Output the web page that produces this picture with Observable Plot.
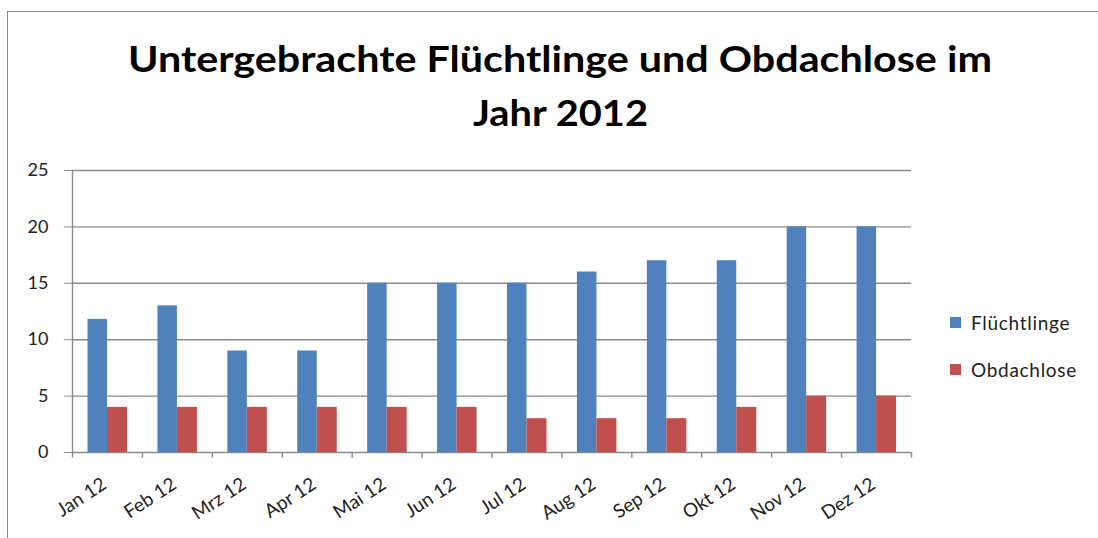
<!DOCTYPE html>
<html>
<head>
<meta charset="utf-8">
<script src="https://cdn.jsdelivr.net/npm/d3@7"></script>
<script src="https://cdn.jsdelivr.net/npm/@observablehq/plot@0.6"></script>
<style>
  body { margin: 0; background: #fff; }
  #wrap { position: relative; width: 1098px; height: 538px; overflow: hidden; font-family: Lato, "Open Sans", sans-serif; background: #fff; }
  #border { position: absolute; left: 7px; top: 11px; right: -4px; bottom: -4px; border-top: 1.5px solid #8a8a8a; border-left: 1.5px solid #8a8a8a; z-index: 5; pointer-events: none; }
  #title { position: absolute; left: 0; top: 0; }
  #chart { position: absolute; left: 0; top: 150px; }
  .leg { position: absolute; left: 950px; display: flex; align-items: center; font-size: 19px; letter-spacing: 0.7px; color: #222; height: 20px; }
  .sw { width: 11px; height: 11px; margin-right: 10px; }
</style>
</head>
<body>
<div id="wrap">
  <svg id="title" width="1098" height="140">
    <text id="t1" x="560" y="72" text-anchor="middle" font-family="Lato" font-weight="700" font-size="37" fill="#000" textLength="864" lengthAdjust="spacingAndGlyphs"></text>
    <text id="t2" x="560.5" y="126" text-anchor="middle" font-family="Lato" font-weight="700" font-size="37" fill="#000" textLength="175" lengthAdjust="spacingAndGlyphs"></text>
  </svg>
  <div id="chart"></div>
  <div id="legend"></div>
  <div id="border"></div>
</div>
<script>
// ---- data ----
const titleLines = ["Untergebrachte Flüchtlinge und Obdachlose im", "Jahr 2012"];
const months = ["Jan 12", "Feb 12", "Mrz 12", "Apr 12", "Mai 12", "Jun 12", "Jul 12", "Aug 12", "Sep 12", "Okt 12", "Nov 12", "Dez 12"];
const fluechtlinge = [11.8, 13, 9, 9, 15, 15, 15, 16, 17, 17, 20, 20];
const obdachlose = [4, 4, 4, 4, 4, 4, 3, 3, 3, 4, 5, 5];
const seriesNames = ["Flüchtlinge", "Obdachlose"];
const seriesColors = ["#4F81BD", "#C0504D"];
const yTicks = [0, 5, 10, 15, 20, 25];

// ---- layout ----
document.getElementById("t1").textContent = titleLines[0];
document.getElementById("t2").textContent = titleLines[1];

const W = 1098, H = 388, ML = 72, MR = 187, MT = 20, MB = 86;
const bw = (W - ML - MR) / months.length;
const gridColor = "#8a8a8a";

const rows = months.map((m, i) => ({month: m, f: fluechtlinge[i], o: obdachlose[i]}));

const plot = Plot.plot({
  width: W, height: H,
  marginLeft: ML, marginRight: MR, marginTop: MT, marginBottom: MB,
  style: {fontFamily: "Lato, sans-serif", background: "transparent", color: "#222"},
  x: {domain: months, padding: 0, round: false, label: null},
  y: {domain: [0, 25], label: null},
  marks: [
    Plot.ruleY(yTicks, {stroke: gridColor, strokeWidth: 1.4}),
    Plot.ruleX([months[0]], {dx: -bw / 2, y1: 0, y2: 25, stroke: gridColor, strokeWidth: 1.4}),
    Plot.ruleX(months, {x: d => d, dx: -bw / 2, y1: -0.5, y2: 0, stroke: gridColor, strokeWidth: 1.4}),
    Plot.ruleX([months[months.length - 1]], {dx: bw / 2, y1: -0.5, y2: 0, stroke: gridColor, strokeWidth: 1.4}),
    Plot.barY(rows, {x: "month", y: "f", fill: seriesColors[0], insetLeft: 15.5, insetRight: bw - 35}),
    Plot.barY(rows, {x: "month", y: "o", fill: seriesColors[1], insetLeft: 35, insetRight: bw - 55}),
    Plot.axisY({ticks: yTicks, tickSize: 8, tickPadding: 16, fontSize: 18, stroke: gridColor, fill: "#222", tickFormat: d => String(d), label: null}),
    Plot.axisX({tickSize: 0, tickRotate: -33, tickPadding: 30, dx: -3, fontSize: 19, fill: "#222", label: null})
  ]
});
document.getElementById("chart").appendChild(plot);

// legend
const legend = document.getElementById("legend");
const legendY = [312, 359];
seriesNames.forEach((name, i) => {
  const d = document.createElement("div");
  d.className = "leg";
  d.style.top = legendY[i] + "px";
  const sw = document.createElement("div");
  sw.className = "sw";
  sw.style.background = seriesColors[i];
  const t = document.createElement("span");
  t.textContent = name;
  d.appendChild(sw); d.appendChild(t);
  legend.appendChild(d);
});
</script>
</body>
</html>
